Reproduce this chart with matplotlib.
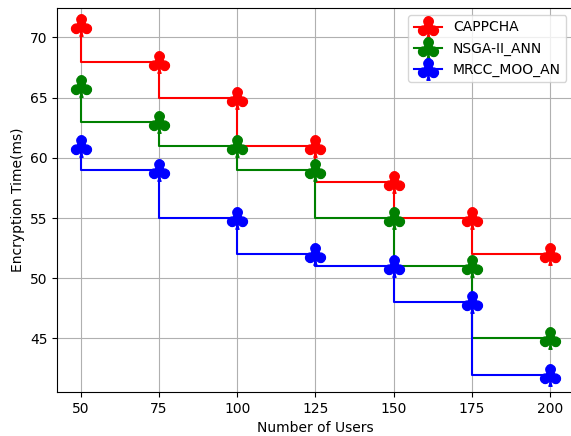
import matplotlib
matplotlib.use('Agg')
import matplotlib.pyplot as plt

# Количество пользователей
users = [50, 75, 100, 125, 150, 175, 200]

# Время шифрования (мс) для каждого метода
cappcha = [71, 68, 65, 61, 58, 55, 52]
nsga_ann = [66, 63, 61, 59, 55, 51, 45]
mrcc_moo = [61, 59, 55, 52, 51, 48, 42]

labels = ['CAPPCHA', 'NSGA-II_ANN', 'MRCC_MOO_AN']
colors = ['red', 'green', 'blue']


def plot_chart():
    fig, ax = plt.subplots(figsize=(5.71, 4.36), dpi=100)
    fig.subplots_adjust(left=0.1007, right=1.004, bottom=0.101, top=0.9817)

    for series, label, color in zip([cappcha, nsga_ann, mrcc_moo], labels, colors):
        ax.step(users, series, where='pre', color=color, label=label,
                marker=r'$\clubsuit$', markersize=15.5, linewidth=1.5)

    ax.set_xticks(users)
    ax.set_xlabel('Number of Users')
    ax.set_ylabel('Encryption Time(ms)')
    ax.grid(True)
    ax.legend(loc='upper right')

    fig.savefig('out.png', dpi=100)


if __name__ == '__main__':
    plot_chart()
